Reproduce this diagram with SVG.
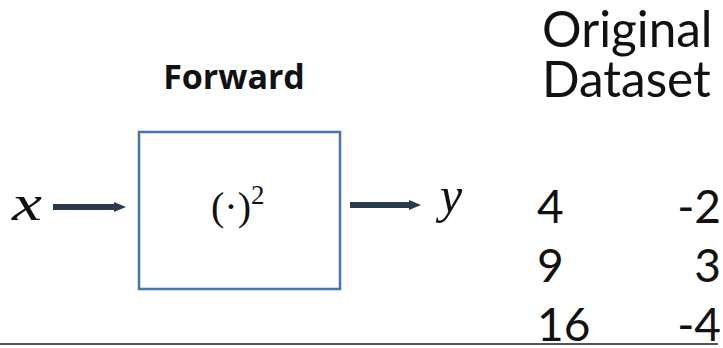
<svg xmlns="http://www.w3.org/2000/svg" width="723" height="348" viewBox="0 0 723 348">
<defs>
<style>
.math{font-family:"Liberation Serif","DejaVu Serif",serif;fill:#111;}
.it{font-style:italic;}
.lato{font-family:Lato,"Open Sans",sans-serif;fill:#111;}
.conn{stroke:#2b3a4b;stroke-width:6;fill:none;}
</style>
<marker id="ah" markerUnits="userSpaceOnUse" markerWidth="12" markerHeight="12" viewBox="0 0 12 12" refX="1" refY="6" orient="auto">
<path d="M0,1 L12,6 L0,11 Z" fill="#2b3a4b"/>
</marker>
</defs>
<rect width="723" height="348" fill="#fff"/>
<g id="title">
<text x="234" y="89" text-anchor="middle" font-family="'Open Sans',sans-serif" font-weight="bold" font-size="34" fill="#111">Forward</text>
</g>
<g id="input">
<text x="12" y="220" class="math it" font-size="50" textLength="30" lengthAdjust="spacingAndGlyphs">x</text>
</g>
<g id="box">
<rect x="139" y="132" width="201" height="157" fill="#fff" stroke="#4575b4" stroke-width="2.5"/>
<text x="211" y="220" class="math" font-size="40">(·)</text>
<text x="251" y="204" class="math" font-size="27">2</text>
</g>
<g id="output">
<text x="440" y="212" class="math it" font-size="50">y</text>
</g>
<g id="connectors">
<line x1="53" y1="207" x2="115" y2="207" class="conn" marker-end="url(#ah)"/>
<line x1="350" y1="205" x2="410" y2="205" class="conn" marker-end="url(#ah)"/>
</g>
<g id="dataset">
<text x="542" y="47" class="lato" font-size="49.5">Original</text>
<text x="542" y="97" class="lato" font-size="49.5">Dataset</text>
<text x="537" y="223" class="lato" font-size="46">4</text>
<text x="537" y="282" class="lato" font-size="46">9</text>
<text x="537" y="341" class="lato" font-size="46">16</text>
<text x="721" y="223" class="lato" font-size="46" text-anchor="end">-2</text>
<text x="721" y="282" class="lato" font-size="46" text-anchor="end">3</text>
<text x="721" y="341" class="lato" font-size="46" text-anchor="end">-4</text>
</g>
<line x1="0" y1="344" x2="718" y2="344" stroke="#555" stroke-width="2"/>
</svg>
